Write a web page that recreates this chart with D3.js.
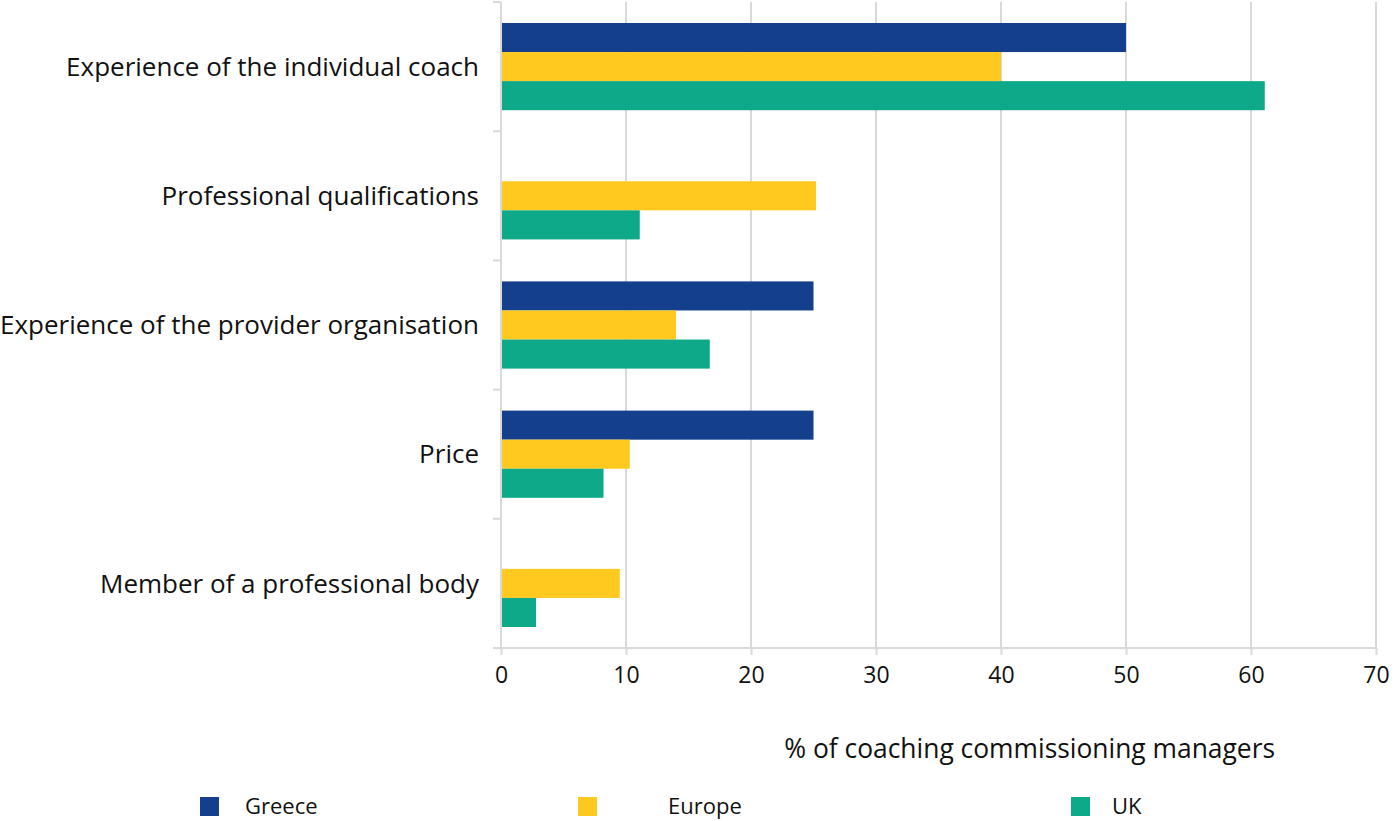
<!DOCTYPE html>
<html>
<head>
<meta charset="utf-8">
<script src="https://cdn.jsdelivr.net/npm/d3@7"></script>
<style>
  body { margin: 0; background: #fff; }
  text { font-family: "Open Sans", sans-serif; fill: #111; }
</style>
</head>
<body>
<div id="chart"></div>
<script>
(function() {
  // data
  var categories = [
    "Experience of the individual coach",
    "Professional qualifications",
    "Experience of the provider organisation",
    "Price",
    "Member of a professional body"
  ];
  var seriesNames = ["Greece", "Europe", "UK"];
  var greece = [50, 0, 25, 25, 0];
  var europe = [40, 25.2, 14, 10.3, 9.5];
  var uk = [61.1, 11.1, 16.7, 8.2, 2.8];
  var xTicks = [0, 10, 20, 30, 40, 50, 60, 70];
  var colors = ["#133f8d", "#ffc91f", "#0da988"];

  var seriesValues = [greece, europe, uk];

  var margin = { top: 2, left: 501, right: 19, bottom: 173 },
      width = 1395 - margin.left - margin.right,
      height = 821 - margin.top - margin.bottom;

  var svg = d3.select("#chart")
    .append("svg")
    .attr("width", 1395)
    .attr("height", 821)
    .append("g")
    .attr("transform", "translate(" + margin.left + "," + margin.top + ")");

  var xPositionScale = d3.scaleLinear()
    .domain([0, 70])
    .range([0, width]);

  var yPositionScale = d3.scaleBand()
    .domain(categories)
    .range([0, height]);

  var ySeriesScale = d3.scaleBand()
    .domain(seriesNames)
    .range([21, yPositionScale.bandwidth() - 21]);

  // gridlines
  svg.selectAll(".grid")
    .data(xTicks.slice(1))
    .enter().append("line")
    .attr("class", "grid")
    .attr("x1", function(d) { return xPositionScale(d); })
    .attr("x2", function(d) { return xPositionScale(d); })
    .attr("y1", 0)
    .attr("y2", height)
    .attr("stroke", "#d9d9d9")
    .attr("stroke-width", 2);

  // bars
  var groups = svg.selectAll(".group")
    .data(categories)
    .enter().append("g")
    .attr("class", "group")
    .attr("transform", function(d) { return "translate(0," + yPositionScale(d) + ")"; });

  groups.selectAll("rect")
    .data(function(d, i) {
      return seriesNames.map(function(s, j) {
        return { series: s, value: seriesValues[j][i], color: colors[j] };
      });
    })
    .enter().append("rect")
    .attr("x", 0)
    .attr("y", function(d) { return ySeriesScale(d.series); })
    .attr("height", ySeriesScale.bandwidth())
    .attr("width", function(d) { return xPositionScale(d.value); })
    .attr("fill", function(d) { return d.color; });

  // x axis
  var xAxis = d3.axisBottom(xPositionScale)
    .tickValues(xTicks)
    .tickSize(7)
    .tickPadding(12)
    .tickSizeOuter(0);
  var xg = svg.append("g")
    .attr("class", "axis x-axis")
    .attr("transform", "translate(0," + height + ")")
    .call(xAxis);
  xg.select(".domain").attr("stroke", "#d9d9d9").attr("stroke-width", 2)
    .attr("d", "M-8,0H" + width);
  xg.selectAll(".tick line").attr("stroke", "#d9d9d9").attr("stroke-width", 2);
  xg.selectAll(".tick text").attr("font-size", 23).attr("fill", "#111")
    .style("font-family", "'Open Sans', sans-serif");

  // y axis line with ticks at band boundaries
  svg.append("line")
    .attr("x1", 0).attr("x2", 0)
    .attr("y1", 0).attr("y2", height)
    .attr("stroke", "#d9d9d9").attr("stroke-width", 2);
  svg.selectAll(".ytick")
    .data(categories)
    .enter().append("line")
    .attr("class", "ytick")
    .attr("x1", -8).attr("x2", 0)
    .attr("y1", function(d) { return yPositionScale(d); })
    .attr("y2", function(d) { return yPositionScale(d); })
    .attr("stroke", "#d9d9d9").attr("stroke-width", 2);

  svg.selectAll(".ylabel")
    .data(categories)
    .enter().append("text")
    .attr("class", "ylabel")
    .attr("x", -22)
    .attr("y", function(d) { return yPositionScale(d) + yPositionScale.bandwidth() / 2; })
    .attr("dy", "0.35em")
    .attr("text-anchor", "end")
    .attr("font-size", 26)
    .text(function(d) { return d; });

  // axis title
  svg.append("text")
    .attr("x", 1275 - margin.left)
    .attr("y", height + 110)
    .attr("text-anchor", "end")
    .attr("font-size", 26.4)
    .text("% of coaching commissioning managers");

  // legend
  var legendX = [200, 578, 1071];
  var legend = d3.select("svg").selectAll(".legend")
    .data(seriesNames)
    .enter().append("g")
    .attr("class", "legend")
    .attr("transform", function(d, i) { return "translate(" + legendX[i] + ",797)"; });
  legend.append("rect")
    .attr("width", 19).attr("height", 19)
    .attr("fill", function(d, i) { return colors[i]; });
  legend.append("text")
    .attr("x", function(d, i) { return [45, 90, 41][i]; })
    .attr("y", 17)
    .attr("font-size", 22)
    .text(function(d) { return d; });
})();
</script>
</body>
</html>
